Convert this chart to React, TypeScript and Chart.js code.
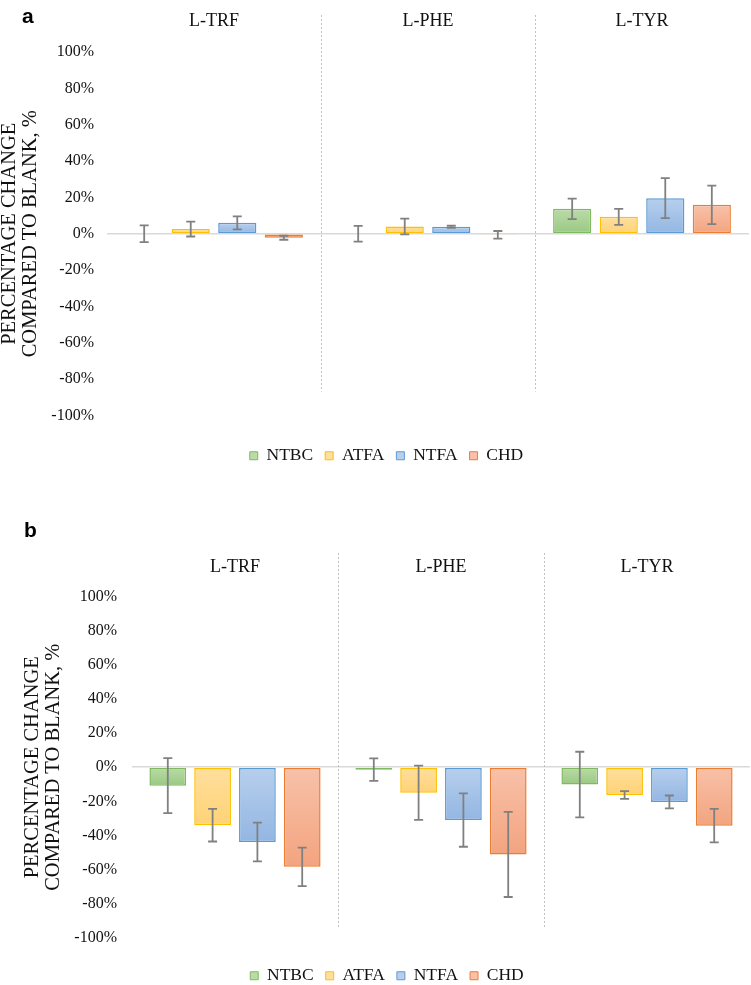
import React, { useEffect, useRef } from 'react';
import { Chart, registerables } from 'chart.js';

Chart.register(...registerables);

// ---------- data ----------
const categories = ['L-TRF', 'L-PHE', 'L-TYR'];
const seriesNames = ['NTBC', 'ATFA', 'NTFA', 'CHD'];
const yTicks = [-100, -80, -60, -40, -20, 0, 20, 40, 60, 80, 100];

// panel a
const aNTBC = [0, 0, 13.7];
const aATFA = [2.6, 4.0, 9.3];
const aNTFA = [6.0, 3.8, 19.6];
const aCHD = [-2.2, -0.6, 15.9];
const aNTBCErr = [4.6, 4.3, 5.6];
const aATFAErr = [4.1, 4.3, 4.4];
const aNTFAErr = [3.6, 0.6, 11.0];
const aCHDErr = [1.1, 2.1, 10.6];

// panel b
const bNTBC = [-10.8, -1.4, -10.2];
const bATFA = [-34.0, -15.0, -16.3];
const bNTFA = [-43.9, -31.0, -20.4];
const bCHD = [-58.5, -51.2, -34.3];
const bNTBCErr = [16.2, 6.6, 19.3];
const bATFAErr = [9.6, 15.9, 2.3];
const bNTFAErr = [11.4, 15.7, 3.8];
const bCHDErr = [11.3, 25.0, 9.8];

// ---------- styles ----------
const SERIF = "'Liberation Serif', 'Times New Roman', serif";
const STYLES = [
  { border: '#80BA5F', light: '#BADBA8', dark: '#99C982' },
  { border: '#FFC000', light: '#FFDF9E', dark: '#FFD275' },
  { border: '#5B9BD5', light: '#B7CFED', dark: '#93B6E2' },
  { border: '#ED7D31', light: '#F8C1A9', dark: '#F3A47F' },
];

function makeFill(light: string, dark: string) {
  return (c: any) => {
    const chart = c.chart;
    const ys = chart.scales && chart.scales.y;
    if (!ys || c.type !== 'data') return dark;
    const v = c.raw as number;
    const p0 = ys.getPixelForValue(0);
    const p1 = ys.getPixelForValue(v);
    const top = Math.min(p0, p1);
    const bot = Math.max(p0, p1);
    if (!isFinite(top) || !isFinite(bot) || bot - top < 1) return light;
    const g = chart.ctx.createLinearGradient(0, top, 0, bot);
    g.addColorStop(0, light);
    g.addColorStop(1, dark);
    return g;
  };
}

const errorBarPlugin = {
  id: 'errBars',
  afterDatasetsDraw(chart: any) {
    const ctx = chart.ctx;
    const ys = chart.scales.y;
    chart.data.datasets.forEach((ds: any, di: number) => {
      const meta = chart.getDatasetMeta(di);
      meta.data.forEach((bar: any, i: number) => {
        const v = ds.data[i];
        const e = ds.errors[i];
        const x = bar.x;
        const yt = ys.getPixelForValue(v + e);
        const yb = ys.getPixelForValue(v - e);
        ctx.save();
        ctx.strokeStyle = '#808080';
        ctx.lineWidth = 1.8;
        ctx.beginPath();
        ctx.moveTo(x, yt);
        ctx.lineTo(x, yb);
        ctx.moveTo(x - 4.5, yt);
        ctx.lineTo(x + 4.5, yt);
        ctx.moveTo(x - 4.5, yb);
        ctx.lineTo(x + 4.5, yb);
        ctx.stroke();
        ctx.restore();
      });
    });
  },
};

const dividerPlugin = {
  id: 'dividers',
  beforeDatasetsDraw(chart: any, _args: any, opts: any) {
    const ctx = chart.ctx;
    const xs = chart.scales.x;
    const area = chart.chartArea;
    ctx.save();
    ctx.strokeStyle = '#C0C0C0';
    ctx.lineWidth = 1;
    ctx.setLineDash([2, 2]);
    for (let i = 1; i < categories.length; i++) {
      const px = Math.round((xs.getPixelForValue(i - 1) + xs.getPixelForValue(i)) / 2) + 0.5;
      ctx.beginPath();
      ctx.moveTo(px, area.top - opts.above);
      ctx.lineTo(px, area.bottom - opts.cut);
      ctx.stroke();
    }
    ctx.restore();
  },
};

type PanelCfg = {
  values: number[][];
  errors: number[][];
  top: number;
  height: number;
  padLeft: number;
  yWidth: number;
  xHeight: number;
  tickPad: number;
  catPad: number;
  titlePad: number;
  gapBelow: number;
  padBottom: number;
  padRight: number;
  divAbove: number;
  divCut: number;
};

function Panel({ cfg }: { cfg: PanelCfg }) {
  const ref = useRef<HTMLCanvasElement>(null);
  useEffect(() => {
    const datasets = seriesNames.map((name, i) => ({
      label: name,
      data: cfg.values[i],
      errors: cfg.errors[i],
      backgroundColor: makeFill(STYLES[i].light, STYLES[i].dark),
      borderColor: STYLES[i].border,
      borderWidth: (c: any) => (c.raw === 0 ? 0 : 1.5),
      borderSkipped: false,
      barPercentage: 0.82,
      categoryPercentage: 0.87,
    }));
    const chart = new Chart(ref.current as HTMLCanvasElement, {
      type: 'bar',
      data: { labels: categories, datasets: datasets as any },
      plugins: [dividerPlugin as any, errorBarPlugin as any],
      options: {
        responsive: false,
        animation: false,
        devicePixelRatio: 1,
        layout: { padding: { left: cfg.padLeft, top: 0, right: cfg.padRight, bottom: cfg.padBottom } },
        scales: {
          x: {
            type: 'category',
            position: 'top',
            grid: { display: false },
            border: { display: false },
            ticks: { color: '#111', font: { family: SERIF, size: 18 }, padding: cfg.catPad, maxRotation: 0 },
            afterFit: (s: any) => { s.height = cfg.xHeight; },
          },
          x2: {
            type: 'category',
            position: 'bottom',
            display: true,
            grid: { display: false },
            border: { display: false },
            ticks: { display: false },
            afterFit: (s: any) => { s.height = cfg.gapBelow; },
          },
          y: {
            type: 'linear',
            min: -100,
            max: 100,
            afterBuildTicks: (s: any) => { s.ticks = yTicks.map((v) => ({ value: v })); },
            grid: {
              drawTicks: false,
              color: (c: any) => (c.tick && c.tick.value === 0 ? '#D9D9D9' : 'rgba(0,0,0,0)'),
              lineWidth: 1.6,
            },
            border: { display: false },
            ticks: {
              color: '#111',
              font: { family: SERIF, size: 16 },
              padding: cfg.tickPad,
              callback: (v: any) => `${v}%`,
            },
            title: {
              display: true,
              text: ['PERCENTAGE CHANGE', 'COMPARED TO BLANK, %'],
              color: '#111',
              font: { family: SERIF, size: 20.5, lineHeight: 1.03 },
              padding: { top: cfg.titlePad, bottom: 0 },
            },
            afterFit: (s: any) => { s.width = cfg.yWidth; },
          },
        },
        plugins: {
          legend: {
            position: 'bottom',
            labels: {
              boxWidth: 8,
              boxHeight: 8,
              padding: 12,
              color: '#111',
              font: { family: SERIF, size: 17.5 },
              generateLabels: () =>
                seriesNames.map((n, i) => ({
                  text: n,
                  fillStyle: STYLES[i].light,
                  strokeStyle: STYLES[i].border,
                  lineWidth: 1,
                  hidden: false,
                  datasetIndex: i,
                  fontColor: '#111',
                })),
            },
          },
          tooltip: { enabled: false },
          dividers: { above: cfg.divAbove, cut: cfg.divCut },
        } as any,
      },
    });
    return () => chart.destroy();
  }, []);
  return (
    <canvas
      ref={ref}
      width={751}
      height={cfg.height}
      style={{ position: 'absolute', left: 0, top: cfg.top, width: 751, height: cfg.height }}
    />
  );
}

const panelA: PanelCfg = {
  values: [aNTBC, aATFA, aNTFA, aCHD],
  errors: [aNTBCErr, aATFAErr, aNTFAErr, aCHDErr],
  top: 0,
  height: 490,
  padLeft: 24,
  yWidth: 83,
  xHeight: 52,
  tickPad: 13,
  catPad: 12,
  titlePad: -25.3,
  gapBelow: 19.5,
  padBottom: 15.5,
  padRight: 2,
  divAbove: 37,
  divCut: 24,
};

const panelB: PanelCfg = {
  values: [bNTBC, bATFA, bNTFA, bCHD],
  errors: [bNTBCErr, bATFAErr, bNTFAErr, bCHDErr],
  top: 485,
  height: 510,
  padLeft: 24,
  yWidth: 108,
  xHeight: 112,
  tickPad: 15,
  catPad: 11,
  titlePad: -2,
  gapBelow: 17.5,
  padBottom: 0.5,
  padRight: 1,
  divAbove: 44,
  divCut: 10,
};

const labelStyle: React.CSSProperties = {
  position: 'absolute',
  fontFamily: "'Liberation Sans', Arial, sans-serif",
  fontWeight: 'bold',
  fontSize: 21,
  lineHeight: '21px',
  color: '#000',
};

export default function App() {
  return (
    <div style={{ position: 'absolute', left: 0, top: 0, width: 751, height: 985, overflow: 'hidden', background: '#fff' }}>
      <Panel cfg={panelA} />
      <Panel cfg={panelB} />
      <div style={{ ...labelStyle, left: 22, top: 5 }}>a</div>
      <div style={{ ...labelStyle, left: 24, top: 519 }}>b</div>
    </div>
  );
}
